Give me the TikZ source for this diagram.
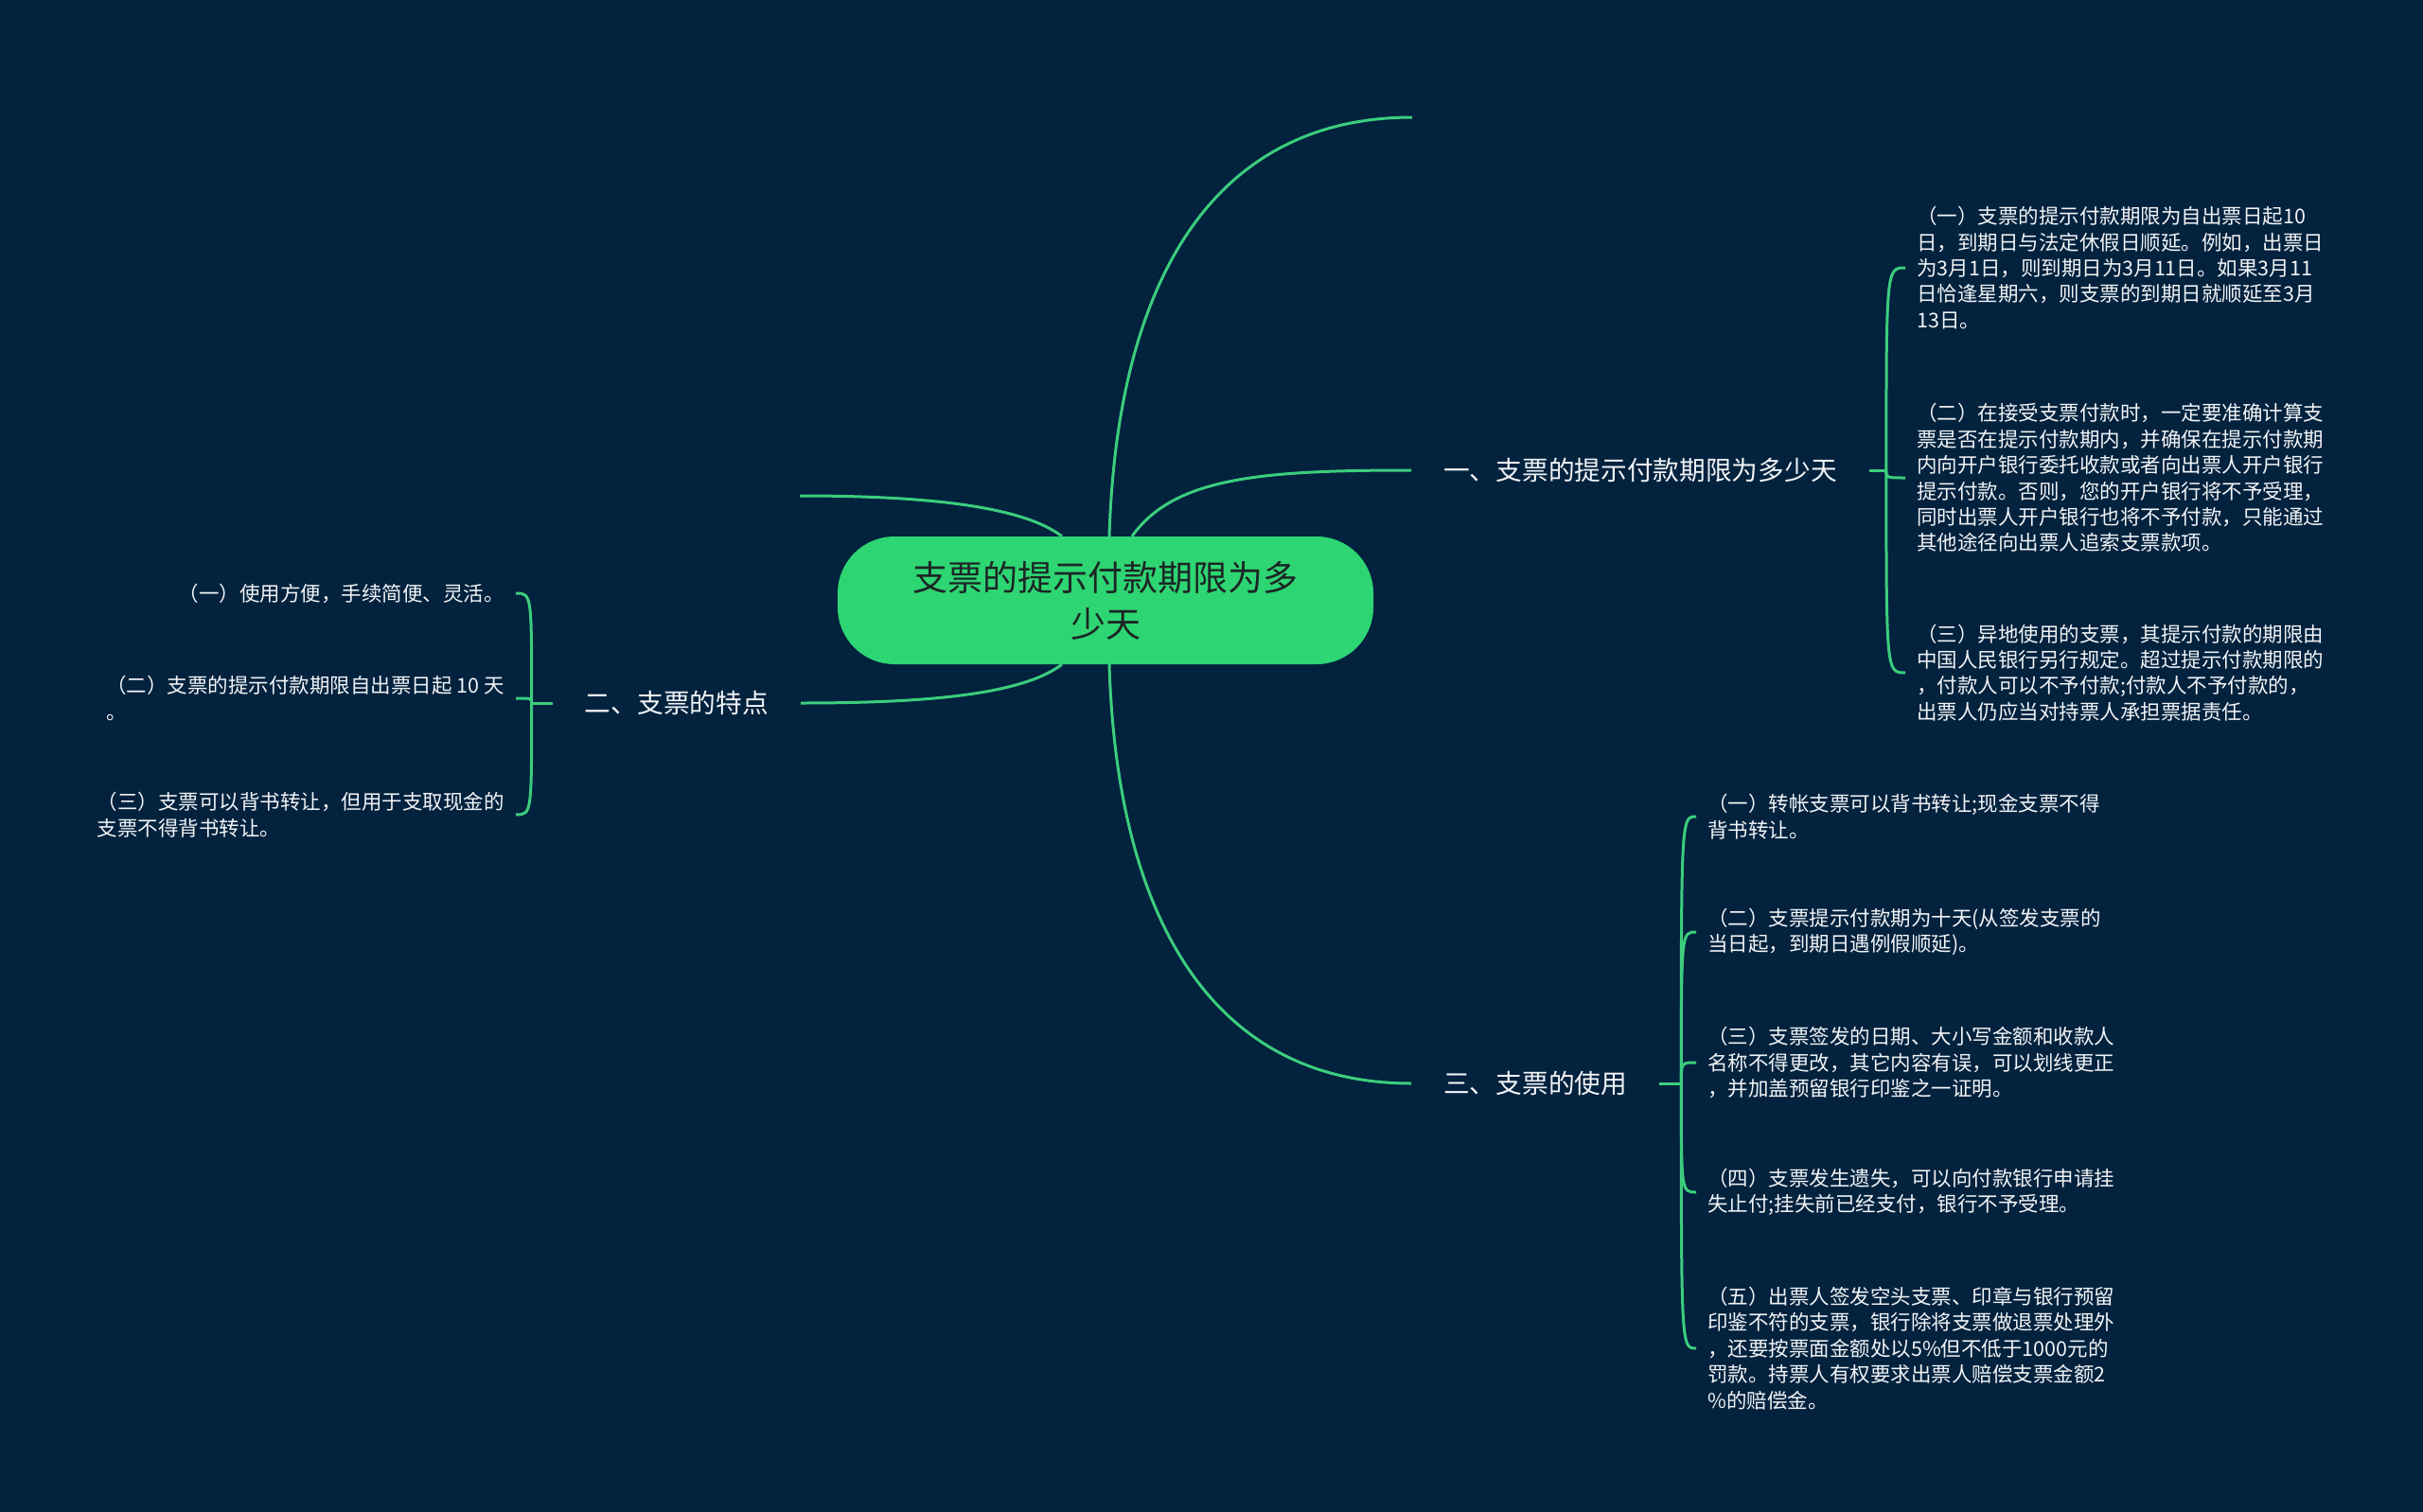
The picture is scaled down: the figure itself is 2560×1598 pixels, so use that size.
\documentclass[tikz,border=0pt]{standalone}
\usepackage{fontspec}
\setmainfont{Noto Sans CJK SC}
\usetikzlibrary{calc}
\definecolor{bg}{RGB}{2,34,62}
\definecolor{ln}{RGB}{60,205,125}
\definecolor{cfill}{RGB}{46,213,115}
\definecolor{ctext}{RGB}{28,38,36}
\definecolor{tx}{RGB}{242,244,246}
\tikzset{
  conn/.style={draw=ln, line width=3pt},
  centerbox/.style={fill=cfill, draw=none, rounded corners=60pt, minimum width=566pt, minimum height=135pt, align=center, text=ctext, font=\fontsize{37pt}{49pt}\selectfont},
  branchbox/.style={text=tx, inner xsep=34pt, inner ysep=6pt, font=\fontsize{27.7pt}{33pt}\selectfont},
  leafR/.style={text=tx, anchor=west, align=left, inner xsep=12pt, inner ysep=4pt, font=\fontsize{21.5pt}{27.4pt}\selectfont},
  leafL/.style={leafR, anchor=east},
}
\begin{document}
\begin{tikzpicture}[x=1pt,y=-1pt]
\useasboundingbox (0,0) rectangle (2560,1598);
\fill[bg] (0,0) rectangle (2560,1598);

% central and branch nodes
\node[centerbox] (c) at (1168,634.5) {支票的提示付款期限为多\\少天};
\node[branchbox, anchor=west] (b1) at (1491,497) {一、支票的提示付款期限为多少天};
\node[branchbox, anchor=west] (b3) at (1491,1145) {三、支票的使用};
\node[branchbox, anchor=east] (b2) at (846,743) {二、支票的特点};
\coordinate (e1) at (1492,124);
\coordinate (e2) at (845,524);

% leaves of branch 1
\node[leafR] (r1) at (2013,283) {（一）支票的提示付款期限为自出票日起10\\日，到期日与法定休假日顺延。例如，出票日\\为3月1日，则到期日为3月11日。如果3月11\\日恰逢星期六，则支票的到期日就顺延至3月\\13日。};
\node[leafR] (r2) at (2013,505) {（二）在接受支票付款时，一定要准确计算支\\票是否在提示付款期内，并确保在提示付款期\\内向开户银行委托收款或者向出票人开户银行\\提示付款。否则，您的开户银行将不予受理，\\同时出票人开户银行也将不予付款，只能通过\\其他途径向出票人追索支票款项。};
\node[leafR] (r3) at (2013,711) {（三）异地使用的支票，其提示付款的期限由\\中国人民银行另行规定。超过提示付款期限的\\，付款人可以不予付款;付款人不予付款的，\\出票人仍应当对持票人承担票据责任。};

% leaves of branch 3
\node[leafR] (u1) at (1792,863) {（一）转帐支票可以背书转让;现金支票不得\\背书转让。};
\node[leafR] (u2) at (1792,985) {（二）支票提示付款期为十天(从签发支票的\\当日起，到期日遇例假顺延)。};
\node[leafR] (u3) at (1792,1123) {（三）支票签发的日期、大小写金额和收款人\\名称不得更改，其它内容有误，可以划线更正\\，并加盖预留银行印鉴之一证明。};
\node[leafR] (u4) at (1792,1260) {（四）支票发生遗失，可以向付款银行申请挂\\失止付;挂失前已经支付，银行不予受理。};
\node[leafR] (u5) at (1792,1425) {（五）出票人签发空头支票、印章与银行预留\\印鉴不符的支票，银行除将支票做退票处理外\\，还要按票面金额处以5\%但不低于1000元的\\罚款。持票人有权要求出票人赔偿支票金额2\\\%的赔偿金。};

% leaves of branch 2
\node[leafL] (l1) at (545,627) {（一）使用方便，手续简便、灵活。};
\node[leafL] (l2) at (545,738) {（二）支票的提示付款期限自出票日起 10 天\\。};
\node[leafL] (l3) at (545,861) {（三）支票可以背书转让，但用于支取现金的\\支票不得背书转让。};

% main connectors
\draw[conn] ($(c.north)+(4,0)$) .. controls (1180,300) and (1280,124) .. (e1);
\draw[conn] ($(c.north)+(28,0)$) .. controls (1240,505) and (1330,497) .. (b1.west);
\draw[conn] ($(c.north)+(-46,0)$) .. controls (1080,535) and (980,524) .. (e2);
\draw[conn] ($(c.south)+(-46,0)$) .. controls (1080,734) and (980,743) .. (b2.east);
\draw[conn] ($(c.south)+(4,0)$) .. controls (1180,969) and (1280,1145) .. (b3.west);

% brackets
\coordinate (j1) at ($(b1.east)+(18,0)$);
\draw[conn] (b1.east) -- (j1);
\foreach \n in {r1,r2,r3} \draw[conn] (j1) .. controls (j1 |- \n.west) .. (\n.west);

\coordinate (j3) at ($(b3.east)+(23,0)$);
\draw[conn] (b3.east) -- (j3);
\foreach \n in {u1,u2,u3,u4,u5} \draw[conn] (j3) .. controls (j3 |- \n.west) .. (\n.west);

\coordinate (j2) at ($(b2.west)+(-22,0)$);
\draw[conn] (b2.west) -- (j2);
\foreach \n in {l1,l2,l3} \draw[conn] (j2) .. controls (j2 |- \n.east) .. (\n.east);
\end{tikzpicture}
\end{document}
